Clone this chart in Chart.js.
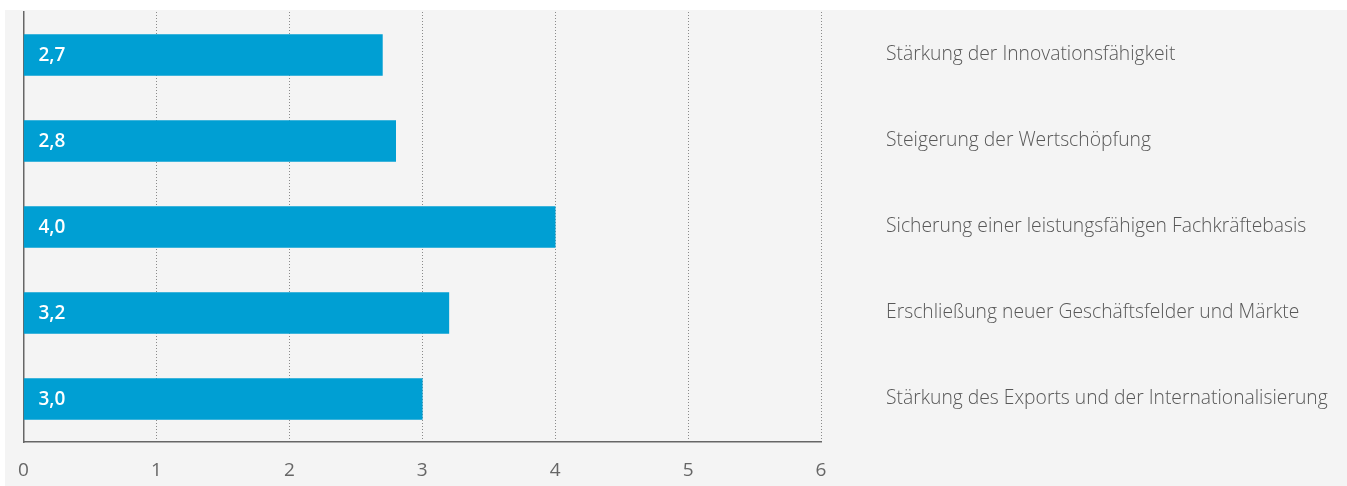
<!DOCTYPE html>
<html>
<head>
<meta charset="utf-8">
<script src="https://cdn.jsdelivr.net/npm/chart.js@4"></script>
<style>
	html, body { margin: 0; padding: 0; background: #fff; }
	#box { position: absolute; left: 5px; top: 10px; width: 1342px; height: 476px; background: #f4f4f4; }
</style>
</head>
<body>
<div id="box"><canvas id="grafico" width="1342" height="476"></canvas></div>
<script>
/* Datos del gráfico */
const kategorien = [
	"Stärkung der Innovationsfähigkeit",
	"Steigerung der Wertschöpfung",
	"Sicherung einer leistungsfähigen Fachkräftebasis",
	"Erschließung neuer Geschäftsfelder und Märkte",
	"Stärkung des Exports und der Internationalisierung",
];
const werte = [2.7, 2.8, 4.0, 3.2, 3.0];
const wertLabels = ["2,7", "2,8", "4,0", "3,2", "3,0"];
const xTicks = [0, 1, 2, 3, 4, 5, 6];

const fuente = "'Open Sans', Lato, sans-serif";

// Etiquetas blancas dentro de las barras
const etiquetasBarras = {
	id: "etiquetasBarras",
	afterDatasetsDraw(chart) {
		const ctx = chart.ctx;
		const meta = chart.getDatasetMeta(0);
		const x0 = chart.scales.x.getPixelForValue(0);
		ctx.save();
		ctx.fillStyle = "#ffffff";
		ctx.font = "600 19px " + fuente;
		ctx.textBaseline = "middle";
		ctx.textAlign = "left";
		meta.data.forEach((bar, i) => {
			ctx.fillText(wertLabels[i], x0 + 15, bar.y + 1);
		});
		ctx.restore();
	},
};

let config = {
	type: "bar",
	data: {
		labels: kategorien,
		datasets: [
			{
				label: "Wert",
				data: werte,
				backgroundColor: "#009fd3",
				barThickness: 41,
				yAxisID: "y",
			},
		],
	},
	options: {
		indexAxis: "y",
		responsive: false,
		animation: false,
		layout: { padding: { left: 18.5, top: 2, right: 0, bottom: 0 } },
		plugins: { legend: { display: false }, tooltip: { enabled: false } },
		scales: {
			x: {
				type: "linear",
				min: 0,
				max: 6,
				afterBuildTicks: (s) => { s.ticks = xTicks.map((v) => ({ value: v })); },
				grid: { color: "#8a8a8a", lineWidth: 1, drawTicks: false },
				border: { display: true, color: "#666", width: 1.5, dash: [1, 2] },
				ticks: { color: "#666", font: { family: fuente, size: 19 }, padding: 17 },
				afterFit: (s) => { s.height = 44; s.paddingLeft = 0; s.paddingRight = 0; },
			},
			y: {
				type: "category",
				position: "left",
				offset: true,
				grid: { display: false, drawTicks: false },
				border: { display: true, color: "#666", width: 1.5 },
				ticks: { display: false },
				afterFit: (s) => { s.width = 0; s.paddingTop = 0; s.paddingBottom = 0; },
			},
			y2: {
				type: "category",
				position: "right",
				labels: kategorien,
				offset: true,
				grid: { display: false, drawTicks: false },
				border: { display: false },
				ticks: { color: "#585858", font: { family: fuente, size: 19.3, weight: "300" }, padding: 65 },
				afterFit: (s) => { s.width = 526; s.paddingTop = 0; s.paddingBottom = 0; },
			},
		},
	},
	plugins: [etiquetasBarras],
};

const chart = new Chart(document.getElementById("grafico"), config);
</script>
</body>
</html>
